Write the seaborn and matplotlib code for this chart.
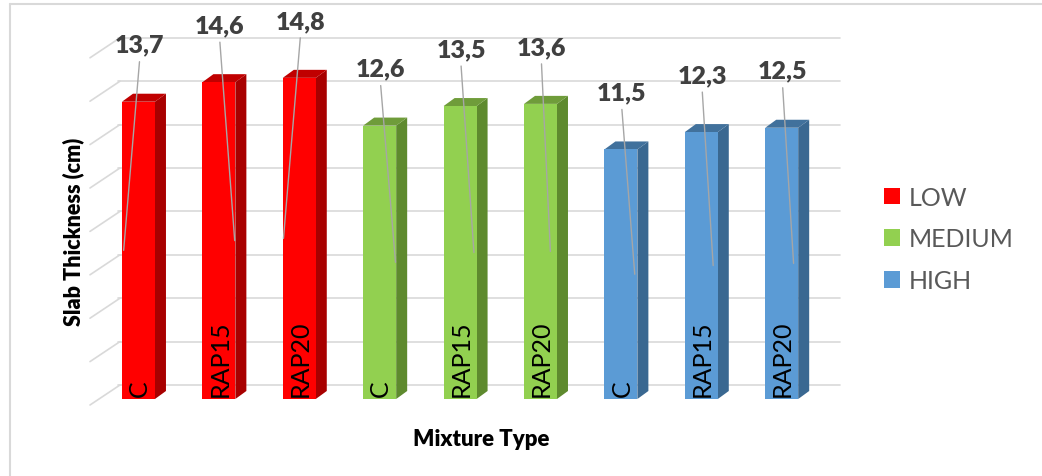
import numpy as np
import pandas as pd
import seaborn as sns
from matplotlib import pyplot as plt
from matplotlib.patches import Polygon, Patch
from matplotlib.lines import Line2D

# data
levels = ['LOW', 'MEDIUM', 'HIGH']
mixtures = ['C', 'RAP15', 'RAP20']
thickness_low = [13.7, 14.6, 14.8]
thickness_medium = [12.6, 13.5, 13.6]
thickness_high = [11.5, 12.3, 12.5]
value_labels = ['13,7', '14,6', '14,8', '12,6', '13,5', '13,6', '11,5', '12,3', '12,5']

front_colors = {'LOW': '#FF0000', 'MEDIUM': '#92D050', 'HIGH': '#5B9BD5'}
side_colors = {'LOW': '#A80000', 'MEDIUM': '#5E8A2E', 'HIGH': '#3A6891'}
top_colors = {'LOW': '#C00000', 'MEDIUM': '#6F9C3A', 'HIGH': '#41719C'}
# where each label's leader line ends, as a fraction of bar width from its centre
leader_shift = [-0.45, 0.48, -0.48, 0.48, 0.42, 0.3, 0.42, 0.36, 0.36]

sns.set_style('white')
plt.rcParams['font.family'] = ['Lato', 'DejaVu Sans']

rows = []
for lev, vals in zip(levels, [thickness_low, thickness_medium, thickness_high]):
    for mix, v in zip(mixtures, vals):
        rows.append({'key': lev + ' ' + mix, 'mix': mix, 'level': lev, 'value': v})
df = pd.DataFrame(rows)

W, H = 1042, 477
fig = plt.figure(figsize=(W / 100, H / 100), dpi=100)
ax = fig.add_axes([90 / W, 77 / H, 750 / W, 400 / H])

sns.barplot(data=df, x='key', y='value', hue='level', palette=front_colors,
            dodge=False, width=0.41, saturation=1, legend=False, ax=ax,
            linewidth=0, edgecolor='none', zorder=3)

ax.set_xlim(-0.603, 8.725)
ax.set_ylim(0, 400 / 21.7)
for s in ax.spines.values():
    s.set_visible(False)
ax.set_xticks([])
ax.set_yticks([])

# pixel -> data scales
sx = 1 / 80.4
sy = 1 / 21.7

# back wall gridlines + side wall diagonals
for v in np.arange(0, 17, 2):
    yb = v + 14 * sy
    ax.plot([-0.255, 8.725], [yb, yb], color='#D9D9D9', lw=1.2, zorder=0, clip_on=False)
    ax.plot([-0.603, -0.23], [yb - 20 * sy, yb], color='#D9D9D9', lw=1.2, zorder=0, clip_on=False)

ddx, ddy = 11 * sx, 8 * sy
bars = [p for p in ax.patches if p.get_height() > 0]
bars.sort(key=lambda p: p.get_x())
for i, (p, row) in enumerate(zip(bars, df.itertuples())):
    x0, w, h = p.get_x(), p.get_width(), p.get_height()
    cx = x0 + w / 2
    side = Polygon([(x0 + w, 0), (x0 + w + ddx, ddy), (x0 + w + ddx, h + ddy), (x0 + w, h)],
                   closed=True, fc=side_colors[row.level], ec='none', zorder=2)
    top = Polygon([(x0, h), (x0 + ddx, h + ddy), (x0 + w + ddx, h + ddy), (x0 + w, h)],
                  closed=True, fc=top_colors[row.level], ec='none', zorder=2)
    ax.add_patch(side)
    ax.add_patch(top)

    # category name inside the bar
    ax.text(cx + 1 * sx, 3 * sy, row.mix, rotation=90, ha='center', va='bottom',
            fontsize=18, color='black', zorder=5)

    # value label and leader line
    ly = h + 57 * sy
    ax.text(cx + 1 * sx, ly, value_labels[i], ha='center', va='center', fontsize=18,
            fontweight=800, color='#404040', zorder=6, clip_on=False)
    ax.plot([cx + 1 * sx, cx + leader_shift[i] * w], [ly - 17 * sy, h / 2],
            color='#A6A6A6', lw=1, zorder=4, clip_on=False)

ax.set_xlabel('Mixture Type', fontsize=16, fontweight=800, color='black')
ax.set_ylabel('Slab Thickness (cm)', fontsize=15.5, fontweight=800, color='black')
ax.xaxis.set_label_coords((481 - 90) / 750, -(440 - 400) / 400)
ax.xaxis.label.set_va('center')
ax.yaxis.set_label_coords((73 - 90) / 750, (400 - 232) / 400)
ax.yaxis.label.set_va('center')

handles = [Patch(fc=front_colors[l], ec='none') for l in levels]
leg = fig.legend(handles, levels, loc='center left', bbox_to_anchor=(861 / W, 1 - 240 / H),
                 frameon=False, fontsize=18, handlelength=0.65, handleheight=0.65,
                 handletextpad=0.35, labelspacing=0.75)
for t in leg.get_texts():
    t.set_color('#595959')

# chart frame (top and left edges only)
fig.add_artist(Line2D([10 / W, 1], [1 - 5 / H, 1 - 5 / H], color='#D9D9D9', lw=1.5))
fig.add_artist(Line2D([10 / W, 10 / W], [0, 1 - 5 / H], color='#D9D9D9', lw=1.5))

fig.savefig('out.png', dpi=100)
